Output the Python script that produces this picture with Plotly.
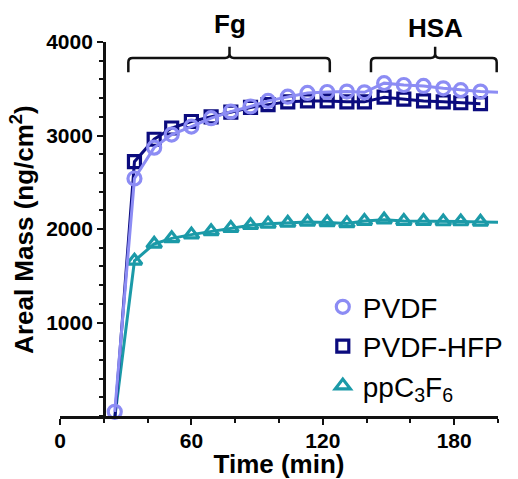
import plotly.graph_objects as go

# Sampling times (min) and areal mass (ng/cm^2) per surface
time_min = [25, 34, 43, 51, 60, 69, 78, 87, 95, 104, 113, 122, 131, 139, 148, 157, 166, 175, 183, 192]
pvdf = [45, 2540, 2870, 3010, 3095, 3185, 3255, 3310, 3370, 3415, 3455, 3465, 3470, 3462, 3560, 3540, 3530, 3505, 3485, 3470]
pvdf_hfp = [-40, 2720, 2960, 3080, 3150, 3200, 3250, 3300, 3330, 3360, 3370, 3370, 3360, 3360, 3410, 3390, 3370, 3360, 3350, 3340]
ppc3f6 = [-20, 1660, 1840, 1900, 1940, 1975, 2010, 2040, 2055, 2065, 2075, 2070, 2060, 2085, 2100, 2085, 2085, 2080, 2080, 2075]

# Trailing line segments continue to the end of the run
line_end_time = 200
pvdf_line_end = 3462
ppc3f6_line_end = 2072

series = [
    dict(name="ppC<sub>3</sub>F<sub>6</sub>", y=ppc3f6, color="#1b9aa8", symbol="triangle-up-open",
         end=ppc3f6_line_end, size=13),
    dict(name="PVDF-HFP", y=pvdf_hfp, color="#0b0b7e", symbol="square-open", end=None, size=12),
    dict(name="PVDF", y=pvdf, color="#8c8cf4", symbol="circle-open", end=pvdf_line_end, size=13),
]
legend_order = {"PVDF": 1, "PVDF-HFP": 2}

FONT = "Liberation Sans, Arial, sans-serif"
AXIS = "#111111"

fig = go.Figure()
for s in series:
    lx = list(time_min)
    ly = list(s["y"])
    if s["end"] is not None:
        lx.append(line_end_time)
        ly.append(s["end"])
    fig.add_trace(go.Scatter(
        x=lx, y=ly, mode="lines", showlegend=False, hoverinfo="skip",
        line=dict(color=s["color"], width=3), cliponaxis=False,
    ))
    fig.add_trace(go.Scatter(
        x=time_min, y=s["y"], mode="markers", name=s["name"],
        legendrank=legend_order.get(s["name"], 3),
        marker=dict(symbol=s["symbol"], size=s["size"], color=s["color"],
                    line=dict(width=3.2, color=s["color"])),
        cliponaxis=False,
    ))

# Phase brackets: fibrinogen then HSA exposure
def bracket(x0, x1, xm, y_low=3677, y_top=3828, y_peak=3950, dx=2.0, dy=45):
    return (f"M {x0},{y_low} L {x0},{y_top - dy} Q {x0},{y_top} {x0 + dx},{y_top} "
            f"L {xm - dx},{y_top} Q {xm},{y_top} {xm},{y_top + dy} L {xm},{y_peak} "
            f"M {xm},{y_top + dy} Q {xm},{y_top} {xm + dx},{y_top} "
            f"L {x1 - dx},{y_top} Q {x1},{y_top} {x1},{y_top - dy} L {x1},{y_low}")

brackets = [("Fg", 31.2, 123.2, 77.4, 1.047), ("HSA", 142.0, 199.4, 171.3, 1.037)]
for label, x0, x1, xm, ylab in brackets:
    fig.add_shape(type="path", path=bracket(x0, x1, xm), xref="x", yref="y",
                  line=dict(color=AXIS, width=2.5))
    fig.add_annotation(x=xm, y=ylab, xref="x", yref="paper", text=f"<b>{label}</b>",
                       showarrow=False, font=dict(family=FONT, size=26, color="#000"),
                       xanchor="center", yanchor="middle")

fig.add_annotation(x=-0.087, y=0.5, xref="paper", yref="paper",
                   text="<b>Areal Mass (ng/cm<sup>2</sup>)</b>", textangle=-90,
                   xanchor="center", yanchor="middle",
                   showarrow=False, font=dict(family=FONT, size=26, color="#000"))

fig.update_layout(
    width=518, height=479,
    margin=dict(l=60, r=20, t=42, b=63, autoexpand=False),
    paper_bgcolor="white", plot_bgcolor="white",
    showlegend=True,
    legend=dict(x=0.6, y=0.358, xanchor="left", yanchor="top",
                font=dict(family=FONT, size=28, color="#000"),
                bgcolor="rgba(0,0,0,0)", itemwidth=30, tracegroupgap=0),
    xaxis=dict(
        range=[0, 200], tickmode="array", tickvals=[0, 60, 120, 180],
        showline=True, linecolor=AXIS, linewidth=2.5, ticks="outside",
        ticklen=6, tickwidth=2, tickcolor=AXIS, showgrid=False, zeroline=False,
        ticklabelstandoff=-2,
        tickfont=dict(family=FONT, size=21, color="#000", weight="bold"),
        minor=dict(tickmode="linear", tick0=0, dtick=20, ticks="outside",
                   ticklen=4, tickwidth=2, tickcolor=AXIS, showgrid=False),
        title=dict(text="<b>Time (min)</b>", font=dict(family=FONT, size=26, color="#000"),
                   standoff=8),
        automargin=False,
    ),
    yaxis=dict(
        range=[0, 4000], tickmode="array", tickvals=[1000, 2000, 3000, 4000],
        anchor="free", position=0.1,
        showline=True, linecolor=AXIS, linewidth=2.5, ticks="outside",
        ticklen=6, tickwidth=2, tickcolor=AXIS, showgrid=False, zeroline=False,
        tickfont=dict(family=FONT, size=21, color="#000", weight="bold"),
        minor=dict(tickmode="linear", tick0=0, dtick=200, ticks="outside",
                   ticklen=4, tickwidth=2, tickcolor=AXIS, showgrid=False),
        automargin=False,
    ),
)

fig.write_html("out.html")
